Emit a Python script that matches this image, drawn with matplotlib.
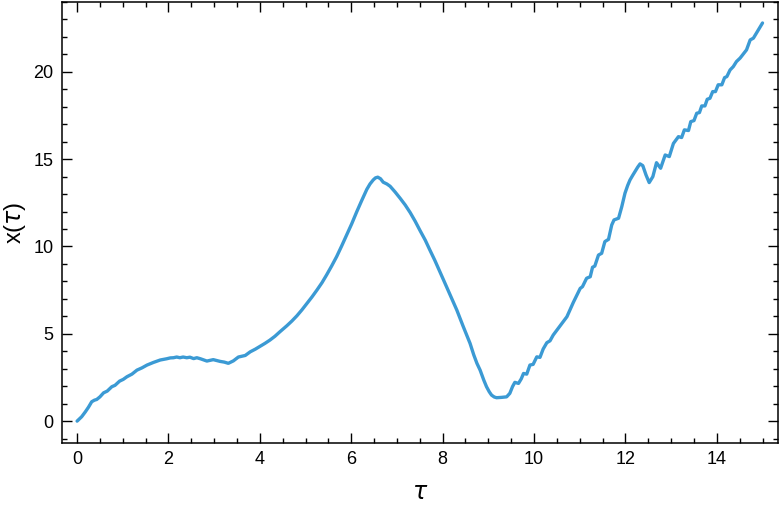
import numpy as np
import matplotlib
matplotlib.use("Agg")
import matplotlib.pyplot as plt
from matplotlib.ticker import MultipleLocator

# ── Дані ────────────────────────────────────────────────────
tau = [0.00, 0.10, 0.18, 0.25, 0.32, 0.38, 0.43, 0.50, 0.58, 0.66, 0.76, 0.83,
       0.93, 1.01, 1.09, 1.20, 1.31, 1.42, 1.53, 1.67, 1.82, 1.96, 2.04, 2.11,
       2.18, 2.25, 2.32, 2.40, 2.47, 2.55, 2.62, 2.70, 2.84, 2.98, 3.13, 3.22,
       3.31, 3.42, 3.53, 3.68, 3.79, 3.90, 4.00, 4.11, 4.22, 4.33, 4.44, 4.59,
       4.70, 4.81, 4.92, 5.03, 5.14, 5.25, 5.36, 5.46, 5.57, 5.68, 5.79, 5.90,
       6.01, 6.12, 6.23, 6.34, 6.41, 6.48, 6.53, 6.58, 6.64, 6.70, 6.78, 6.85,
       6.96, 7.07, 7.18, 7.29, 7.40, 7.51, 7.62, 7.72, 7.83, 7.94, 8.02, 8.16,
       8.31, 8.45, 8.60, 8.68, 8.75, 8.82, 8.90, 8.96, 9.02, 9.07, 9.13, 9.18,
       9.29, 9.40, 9.47, 9.53, 9.58, 9.66, 9.72, 9.77, 9.84, 9.91, 9.98, 10.06,
       10.13, 10.20, 10.28, 10.35, 10.42, 10.57, 10.72, 10.86, 11.01, 11.06,
       11.15, 11.23, 11.28, 11.33, 11.41, 11.48, 11.55, 11.63, 11.70, 11.75,
       11.85, 11.92, 11.99, 12.05, 12.10, 12.16, 12.21, 12.27, 12.32, 12.38,
       12.45, 12.52, 12.60, 12.68, 12.77, 12.87, 12.96, 13.05, 13.16, 13.23,
       13.29, 13.38, 13.43, 13.50, 13.56, 13.62, 13.67, 13.74, 13.79, 13.85,
       13.91, 13.97, 14.03, 14.11, 14.17, 14.22, 14.29, 14.36, 14.43, 14.51,
       14.58, 14.65, 14.73, 14.80, 14.91, 15.00]

x_tau = [0.00, 0.25, 0.53, 0.80, 1.11, 1.20, 1.24, 1.39, 1.62, 1.72, 1.97, 2.05,
         2.29, 2.39, 2.54, 2.69, 2.92, 3.05, 3.21, 3.36, 3.50, 3.57, 3.62, 3.63,
         3.67, 3.63, 3.67, 3.63, 3.66, 3.58, 3.63, 3.57, 3.44, 3.52, 3.42, 3.38,
         3.31, 3.45, 3.67, 3.76, 3.97, 4.12, 4.28, 4.45, 4.64, 4.86, 5.12, 5.46,
         5.73, 6.03, 6.37, 6.74, 7.11, 7.51, 7.93, 8.37, 8.88, 9.42, 10.03, 10.66,
         11.30, 11.99, 12.64, 13.27, 13.58, 13.81, 13.93, 13.97, 13.88, 13.68,
         13.58, 13.45, 13.12, 12.76, 12.38, 11.94, 11.44, 10.89, 10.36, 9.80,
         9.20, 8.56, 8.08, 7.25, 6.36, 5.42, 4.45, 3.80, 3.31, 2.92, 2.35, 1.97,
         1.68, 1.49, 1.38, 1.34, 1.36, 1.39, 1.59, 1.98, 2.22, 2.16, 2.42, 2.73,
         2.69, 3.21, 3.25, 3.68, 3.65, 4.13, 4.49, 4.60, 4.93, 5.45, 5.98, 6.80,
         7.60, 7.70, 8.18, 8.27, 8.81, 8.88, 9.51, 9.61, 10.28, 10.41, 11.23,
         11.52, 11.62, 12.28, 13.05, 13.50, 13.81, 14.08, 14.29, 14.55, 14.73,
         14.63, 14.10, 13.66, 14.00, 14.80, 14.48, 15.24, 15.15, 15.90, 16.29,
         16.24, 16.68, 16.64, 17.15, 17.21, 17.63, 17.67, 18.05, 18.05, 18.43,
         18.49, 18.87, 18.87, 19.26, 19.26, 19.67, 19.73, 20.11, 20.30, 20.59,
         20.79, 21.02, 21.26, 21.83, 21.93, 22.41, 22.80]

x_ticks = [0, 2, 4, 6, 8, 10, 12, 14]
y_ticks = [0, 5, 10, 15, 20]

# ── Графік ─────────────────────────────────────────────────
plt.rcParams['font.family'] = ['Liberation Sans', 'DejaVu Sans']
plt.rcParams['mathtext.fontset'] = 'dejavusans'

fig = plt.figure(figsize=(7.8, 5.07), dpi=100)
ax = fig.add_axes([0.0795, 0.126, 0.918, 0.870])

ax.plot(tau, x_tau, color='#3b9ad4', linewidth=2.4,
        solid_joinstyle='round', solid_capstyle='round')

ax.set_xlim(-0.33, 15.34)
ax.set_ylim(-1.26, 24.0)
ax.set_xticks(x_ticks)
ax.set_yticks(y_ticks)
ax.xaxis.set_minor_locator(MultipleLocator(0.5))
ax.yaxis.set_minor_locator(MultipleLocator(1))
ax.tick_params(which='both', direction='in', top=True, right=True,
               width=1.0, labelsize=13, pad=6)
ax.tick_params(which='major', length=7)
ax.tick_params(which='minor', length=3.5)
for s in ax.spines.values():
    s.set_linewidth(1.1)

ax.set_xlabel(r'$\tau$', fontsize=17, labelpad=10)
ax.set_ylabel(r'x($\tau$)', fontsize=17, labelpad=4)

fig.savefig('out.png', dpi=100)
